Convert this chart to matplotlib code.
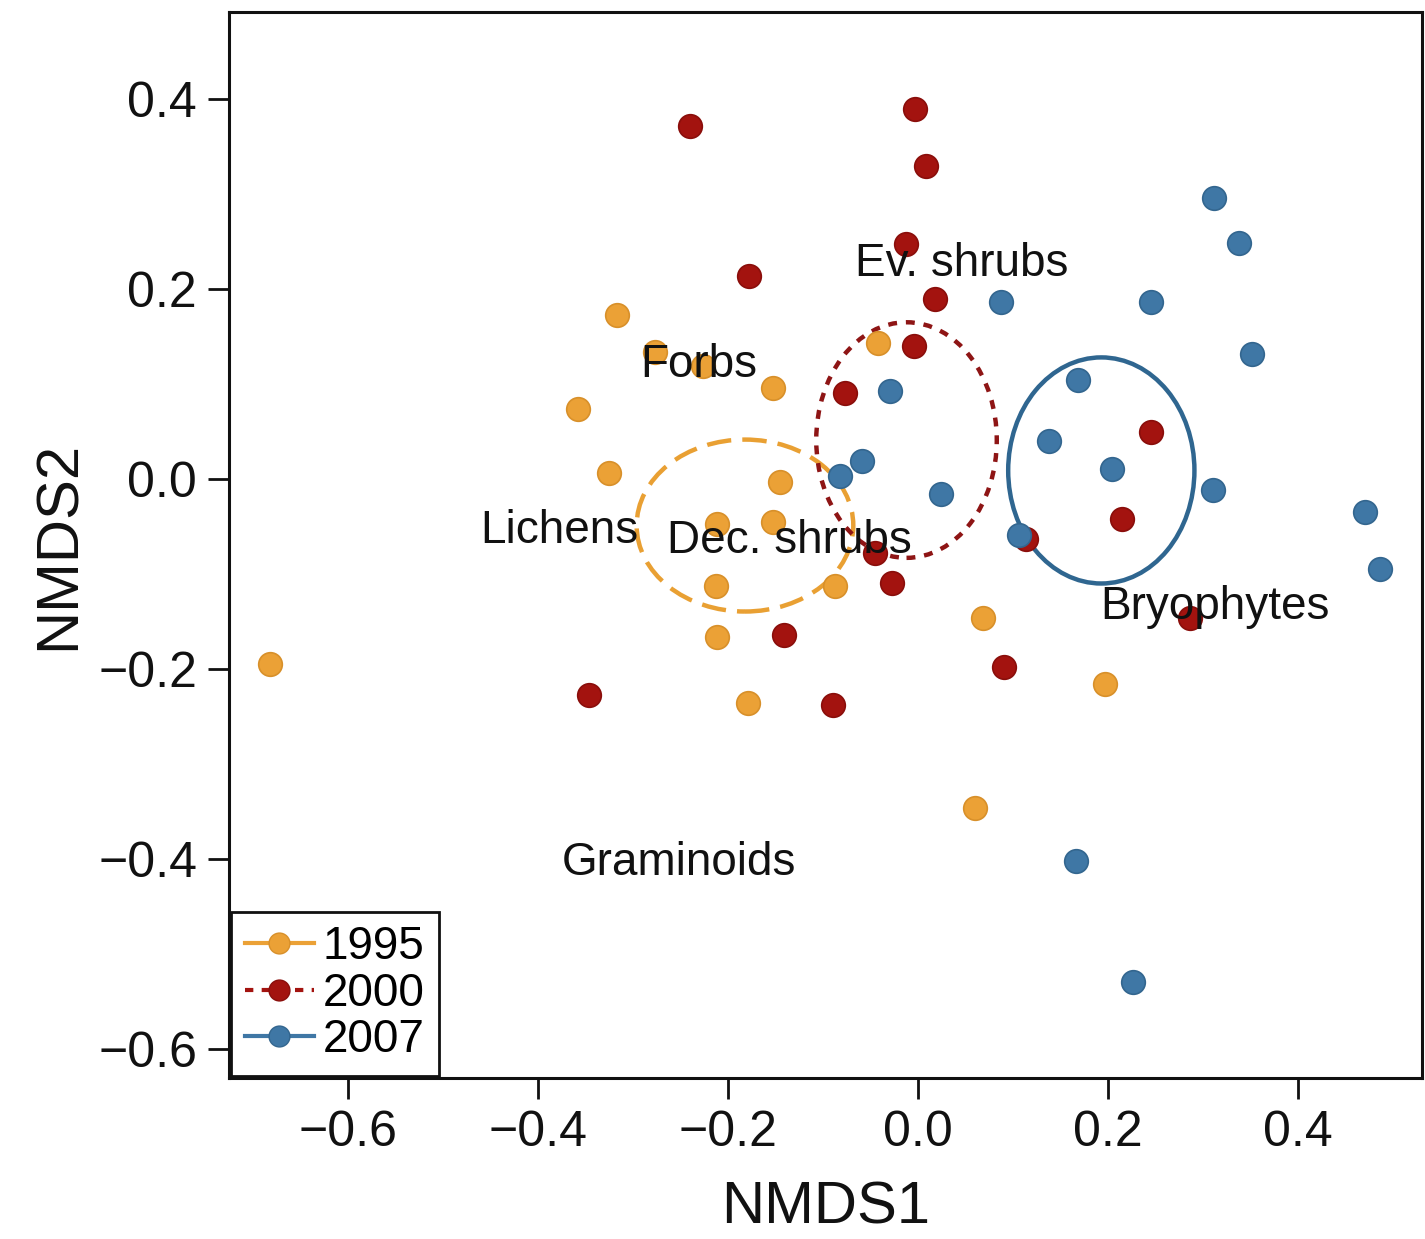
import matplotlib
matplotlib.use("Agg")
import matplotlib.pyplot as plt
from matplotlib.patches import Ellipse
from matplotlib.lines import Line2D

plt.rcParams['font.family'] = ['Liberation Sans', 'DejaVu Sans']

years = ["1995", "2000", "2007"]

x1995 = [-0.682, -0.317, -0.277, -0.226, -0.358, -0.325, -0.153, -0.042, -0.145,
         -0.211, -0.153, -0.212, -0.087, -0.211, -0.179, 0.068, 0.197, 0.060]
y1995 = [-0.195, 0.173, 0.134, 0.119, 0.074, 0.006, 0.096, 0.143, -0.003,
         -0.047, -0.045, -0.113, -0.113, -0.166, -0.236, -0.146, -0.216, -0.346]

x2000 = [-0.240, -0.003, 0.009, -0.013, -0.178, 0.018, -0.004, -0.077, 0.245,
         0.215, 0.114, -0.045, -0.027, -0.141, 0.286, 0.091, -0.346, -0.089]
y2000 = [0.372, 0.389, 0.329, 0.247, 0.214, 0.189, 0.140, 0.091, 0.049,
         -0.042, -0.063, -0.078, -0.109, -0.164, -0.146, -0.198, -0.227, -0.238]

x2007 = [0.312, 0.338, 0.087, 0.245, 0.352, -0.029, 0.168, 0.138, 0.204,
         -0.059, -0.082, 0.024, 0.311, 0.106, 0.471, 0.486, 0.166, 0.226]
y2007 = [0.296, 0.248, 0.186, 0.186, 0.132, 0.093, 0.104, 0.040, 0.011,
         0.019, 0.003, -0.016, -0.012, -0.059, -0.035, -0.095, -0.402, -0.529]

# ellipse centres and full widths/heights (data units)
ell_cx = [-0.182, -0.012, 0.193]
ell_cy = [-0.049, 0.041, 0.009]
ell_w = [0.228, 0.190, 0.196]
ell_h = [0.181, 0.248, 0.238]

species = ["Ev. shrubs", "Forbs", "Lichens", "Dec. shrubs", "Bryophytes", "Graminoids"]
sp_x = [0.046, -0.231, -0.377, -0.135, 0.313, -0.252]
sp_y = [0.226, 0.120, -0.055, -0.065, -0.135, -0.404]

colors = ["#EBA136", "#A3130F", "#3F77A5"]
edges = ["#D8902A", "#8A0E0B", "#33668F"]
ell_colors = ["#E9A033", "#8E1515", "#2F6690"]

fig = plt.figure(figsize=(14.25, 12.39), dpi=100)
ax = fig.add_axes([0.1607, 0.1300, 0.8372, 0.8603])

xs = [x1995, x2000, x2007]
ys = [y1995, y2000, y2007]

for i in range(3):
    ax.plot(xs[i], ys[i], linestyle='none', marker='o', markersize=17,
            markerfacecolor=colors[i], markeredgecolor=edges[i], markeredgewidth=1.2,
            zorder=3)

ell_dashes = [(0, (5.5, 2.5)), (0, (2.0, 2.0)), 'solid']
for i in range(3):
    e = Ellipse((ell_cx[i], ell_cy[i]), ell_w[i], ell_h[i], fill=False,
                edgecolor=ell_colors[i], linewidth=3.2, linestyle=ell_dashes[i], zorder=2)
    ax.add_patch(e)

for s, sx, sy in zip(species, sp_x, sp_y):
    ax.text(sx, sy, s, fontsize=33, ha='center', va='center', color='#111111', zorder=4)

ax.set_xlim(-0.725, 0.5305)
ax.set_ylim(-0.6305, 0.4916)
ticks = [-0.6, -0.4, -0.2, 0.0, 0.2, 0.4]
tick_labels = ["\u22120.6", "\u22120.4", "\u22120.2", "0.0", "0.2", "0.4"]
ax.set_xticks(ticks)
ax.set_yticks(ticks)
ax.set_xticklabels(tick_labels)
ax.set_yticklabels(tick_labels)
ax.tick_params(axis='both', direction='out', length=15, width=2, labelsize=36,
               pad=8, colors='#111111')
for sp in ax.spines.values():
    sp.set_linewidth(2.2)
    sp.set_color('#111111')

ax.set_xlabel("NMDS1", fontsize=43, labelpad=18, color='#111111')
ax.set_ylabel("NMDS2", fontsize=43, labelpad=8, color='#111111')

handles = [
    Line2D([0], [0], color=colors[0], linestyle='solid', linewidth=3, marker='o',
           markersize=15, markerfacecolor=colors[0], markeredgecolor=edges[0]),
    Line2D([0], [0], color=colors[1], linestyle=(0, (2, 2)), linewidth=3, marker='o',
           markersize=15, markerfacecolor=colors[1], markeredgecolor=edges[1]),
    Line2D([0], [0], color=colors[2], linestyle='solid', linewidth=3, marker='o',
           markersize=15, markerfacecolor=colors[2], markeredgecolor=edges[2]),
]
leg = ax.legend(handles, years, loc='lower left', fontsize=33, frameon=True,
                fancybox=False, borderaxespad=0.05, handlelength=1.5,
                handletextpad=0.2, labelspacing=0.05, borderpad=0.3)
leg.get_frame().set_edgecolor('#111111')
leg.get_frame().set_linewidth(2)
leg.get_frame().set_alpha(1)
leg.set_zorder(5)

fig.savefig("out.png", dpi=100, facecolor='white')
